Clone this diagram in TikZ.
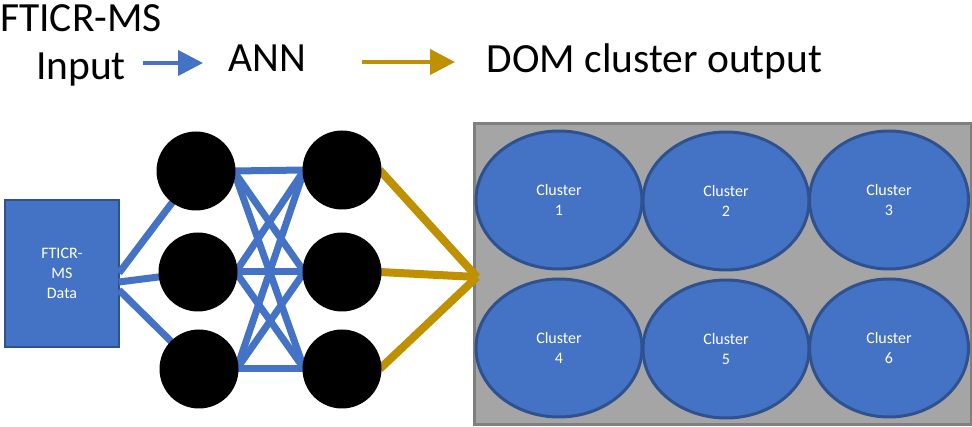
\documentclass[tikz,border=0pt]{standalone}
\usepackage{fontspec}
\setmainfont{Carlito}
\usetikzlibrary{arrows.meta,shapes.geometric}
\pgfdeclarelayer{boxes}
\pgfdeclarelayer{links}
\pgfsetlayers{boxes,links,main}
\definecolor{obl}{HTML}{4472C4}
\definecolor{obd}{HTML}{2F528F}
\definecolor{ogold}{HTML}{BF9000}
\definecolor{ogray}{HTML}{A5A5A5}
\definecolor{ogrd}{HTML}{7F7F7F}
\tikzset{
  bigtext/.style={font=\fontsize{41.5}{48}\selectfont, inner sep=0pt, anchor=base},
  neuron/.style={circle, fill=black, minimum size=79pt, inner sep=0pt},
  bluelink/.style={obl, line width=7pt},
  goldlink/.style={ogold, line width=8pt},
  titlearrow/.style={line width=4pt, -{Triangle[length=25pt,width=25pt]}},
  cluster/.style={ellipse, fill=obl, draw=obd, line width=3pt, minimum width=166pt, minimum height=138pt, inner sep=0pt,
    text=white, align=center, font=\fontsize{16}{20}\selectfont},
}
\begin{document}
\begin{tikzpicture}[x=1pt,y=-1pt]
\useasboundingbox (0,0) rectangle (972,427);
% titles
\node[bigtext] (t1) at (81,32) {FTICR-MS};
\node[bigtext] (t2) at (81,80) {Input};
\node[bigtext] (ann) at (267,72) {ANN};
\node[bigtext] (dom) at (654.5,73) {DOM cluster output};
\coordinate (a1s) at (143,63);
\coordinate (a1e) at (203,63);
\coordinate (a2s) at (362,62);
\coordinate (a2e) at (455,62);
\draw[obl, titlearrow] (a1s) -- (a1e);
\draw[ogold, titlearrow] (a2s) -- (a2e);
\begin{pgfonlayer}{boxes}
% gray output box
\node[draw=ogrd, fill=ogray, line width=3pt, minimum width=497pt, minimum height=301pt, inner sep=0pt] (out) at (722.5,274.5) {};
% input box
\node[draw=obd, fill=obl, line width=2.5pt, minimum width=114pt, minimum height=147pt, inner sep=0pt,
  text=white, align=center, font=\fontsize{16}{20}\selectfont] (inp) at (62,273.5) {FTICR-\\MS\\Data};
\end{pgfonlayer}
% neurons
\node[neuron] (n11) at (196,171) {};
\node[neuron] (n12) at (198,272) {};
\node[neuron] (n13) at (199,369) {};
\node[neuron] (n21) at (342,170) {};
\node[neuron] (n22) at (342,272) {};
\node[neuron] (n23) at (342,369) {};
\coordinate (ip1) at (119,273);
\coordinate (ip2) at (119,282);
\coordinate (ip3) at (119,290);
\coordinate (conv) at (477,277);
% links (behind neurons)
\begin{pgfonlayer}{links}
\draw[bluelink] (ip1) -- (n11.center);
\draw[bluelink] (ip2) -- (n12.center);
\draw[bluelink] (ip3) -- (n13.center);
\foreach \i in {1,2,3}{\foreach \j in {1,2,3}{\draw[bluelink] ([xshift=-2pt]n1\i.east) -- ([xshift=2pt]n2\j.west);}}
\foreach \j in {1,2,3}{\draw[goldlink] ([xshift=-2pt]n2\j.east) -- (conv);}
\end{pgfonlayer}
% clusters
\node[cluster] (k1) at (559,200) {Cluster\\1};
\node[cluster] (k2) at (726,201) {Cluster\\2};
\node[cluster, minimum width=159pt] (k3) at (889,200) {Cluster\\3};
\node[cluster] (k4) at (559,348) {Cluster\\4};
\node[cluster] (k5) at (726,349) {Cluster\\5};
\node[cluster, minimum width=159pt] (k6) at (889,348) {Cluster\\6};
\end{tikzpicture}
\end{document}
